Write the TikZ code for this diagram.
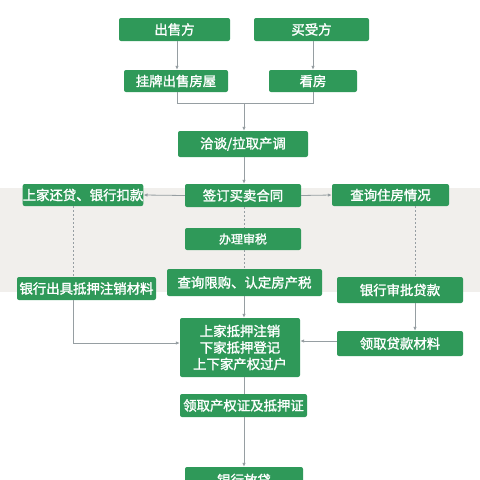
\documentclass[tikz,border=0pt]{standalone}
\usepackage{fontspec}
\newfontfamily\cjk{Noto Sans CJK SC}[FakeBold=1.6]
\usetikzlibrary{arrows.meta}
\definecolor{boxgreen}{RGB}{47,153,89}
\definecolor{linegray}{RGB}{150,158,162}
\definecolor{bandgray}{RGB}{241,239,236}
\tikzset{
  box/.style={fill=boxgreen,rounded corners=2pt,inner sep=0pt,text=white,font=\cjk\fontsize{13.4}{16.5}\selectfont,align=center},
  conn/.style={draw=linegray,line width=0.8pt},
  arr/.style={conn,-{Latex[length=4pt,width=3.5pt]}},
  dots/.style={conn,dash pattern=on 1.5pt off 2.5pt}
}
\begin{document}
\begin{tikzpicture}[x=1pt,y=-1pt]
\useasboundingbox (0,0) rectangle (480,480);
\clip (0,0) rectangle (480,480);
\fill[white] (0,0) rectangle (480,480);
\fill[bandgray] (0,188) rectangle (480,292);

\node[box,minimum width=111pt,minimum height=23pt] (sell) at (174.5,29.5) {出售方};
\node[box,minimum width=115pt,minimum height=23pt] (buy) at (311.5,29.5) {买受方};
\node[box,minimum width=104pt,minimum height=22pt] (list) at (176,81) {挂牌出售房屋};
\node[box,minimum width=88pt,minimum height=22pt] (view) at (313,81) {看房};
\node[box,minimum width=130pt,minimum height=26pt] (nego) at (243,144) {洽谈/拉取产调};
\node[box,minimum width=116pt,minimum height=23pt] (sign) at (243,195.5) {签订买卖合同};
\node[box,minimum width=120pt,minimum height=22pt] (repay) at (83,195) {上家还贷、银行扣款};
\node[box,minimum width=117pt,minimum height=22pt] (query) at (390.5,195) {查询住房情况};
\node[box,minimum width=116pt,minimum height=22pt,font=\cjk\fontsize{12}{14}\selectfont] (tax) at (243,239) {办理审税};
\node[box,minimum width=155pt,minimum height=27pt] (limit) at (244.5,282.5) {查询限购、认定房产税};
\node[box,minimum width=139pt,minimum height=23pt] (bankdoc) at (86.5,288.5) {银行出具抵押注销材料};
\node[box,minimum width=126pt,minimum height=26pt] (approve) at (400,290) {银行审批贷款};
\node[box,minimum width=120pt,minimum height=59pt] (main) at (240,347.5) {上家抵押注销\\下家抵押登记\\上下家产权过户};
\node[box,minimum width=126pt,minimum height=25pt] (loandoc) at (400,343.5) {领取贷款材料};
\node[box,minimum width=127pt,minimum height=23pt] (cert) at (243.5,405.5) {领取产权证及抵押证};
\node[box,minimum width=118pt,minimum height=26pt] (release) at (244,480) {银行放贷};

\coordinate (jl) at (177,103);
\coordinate (jr) at (313,103);
\coordinate (jm) at (244,103);
\coordinate (bl) at (73,343);

\draw[arr] (sell.south -| jl) -- (list.north -| jl);
\draw[arr] (buy.south -| jr) -- (view.north -| jr);
\draw[conn] (list.south -| jl) -- (jl) -- (jr) -- (view.south -| jr);
\draw[arr] (jm) -- (nego.north -| jm);
\draw[arr] (nego.south -| jm) -- (sign.north -| jm);
\draw[arr] (sign.west) -- (repay.east);
\draw[arr] (sign.east) -- (query.west);
\draw[dots] (repay.south -| bl) -- (bankdoc.north -| bl);
\draw[dots] (query.south -| 415,0) -- (approve.north -| 415,0);
\draw[dots] (sign.south -| jm) -- (tax.north -| jm);
\draw[dots] (tax.south -| jm) -- (limit.north -| jm);
\draw[arr] (limit.south -| jm) -- (main.north -| jm);
\draw[arr] (bankdoc.south -| bl) -- (bl) -- (main.west |- bl);
\draw[arr] (approve.south -| 415,0) -- (loandoc.north -| 415,0);
\draw[arr] (loandoc.west |- 0,341) -- (main.east |- 0,341);
\draw[conn] (main.south -| jm) -- (cert.north -| jm);
\draw[arr] (cert.south -| jm) -- (release.north -| jm);
\end{tikzpicture}
\end{document}
